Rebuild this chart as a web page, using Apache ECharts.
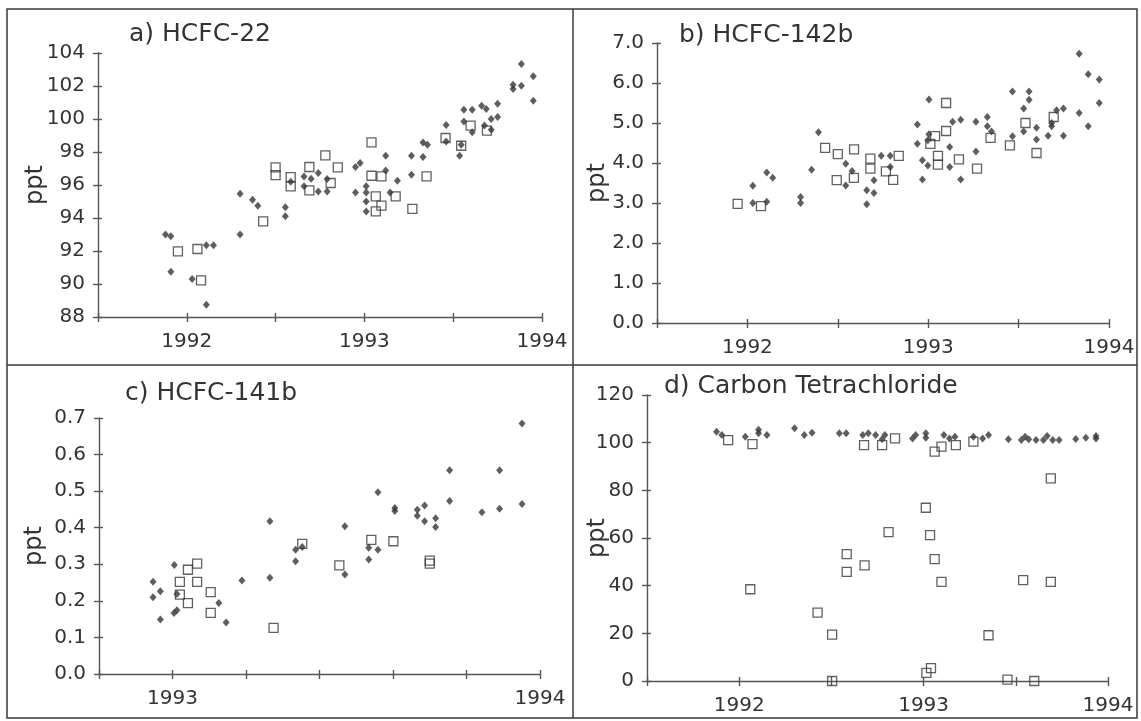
<!DOCTYPE html>
<html><head><meta charset="utf-8">
<script src="https://cdn.jsdelivr.net/npm/echarts@6/dist/echarts.min.js"></script>
<style>html,body{margin:0;padding:0;background:#fff}#c{width:1141px;height:721px}</style>
</head><body><div id="c"></div>
<script>
// ---------- DATA ----------
const panelTitles = ['a) HCFC-22', 'b) HCFC-142b', 'c) HCFC-141b', 'd) Carbon Tetrachloride'];
const yAxisName = 'ppt';
// [min, max, interval]
const xRangeA = [1991.5, 1994, 0.5];
const yRangeA = [88, 104, 2];
const xRangeB = [1991.5, 1994, 0.5];
const yRangeB = [0, 7, 1];
const xRangeC = [1992.8, 1994, 0.2];
const yRangeC = [0, 0.7, 0.1];
const xRangeD = [1991.5, 1994, 0.5];
const yRangeD = [0, 120, 20];
const yDecimals = [0, 1, 1, 0];

// a) HCFC-22  [decimal year, ppt]
const hcfc22Filled = [
  [1991.88,93.0],[1991.91,92.9],[1991.91,90.75],[1992.03,90.3],[1992.11,88.75],[1992.11,92.35],[1992.15,92.35],
  [1992.30,95.47],[1992.30,93.0],[1992.37,95.1],[1992.40,94.75],[1992.555,94.65],[1992.555,94.1],[1992.585,96.2],
  [1992.66,96.52],[1992.70,96.38],[1992.74,96.73],[1992.66,95.92],[1992.74,95.6],[1992.79,95.6],[1992.79,96.36],
  [1992.95,97.09],[1992.976,97.33],[1992.95,95.55],[1993.01,95.92],[1993.01,95.55],[1993.01,95.0],[1993.01,94.4],
  [1993.12,97.78],[1993.12,96.88],[1993.145,95.55],[1993.186,96.26],[1993.265,97.78],[1993.265,96.62],
  [1993.33,98.58],[1993.355,98.44],[1993.33,97.7],[1993.46,99.64],[1993.46,98.64],[1993.536,97.78],[1993.545,98.44],
  [1993.56,100.56],[1993.607,100.56],[1993.56,99.85],[1993.607,99.19],[1993.66,100.8],[1993.686,100.6],
  [1993.676,99.6],[1993.714,99.35],[1993.714,100.0],[1993.75,100.93],[1993.75,100.12],[1993.837,101.82],
  [1993.837,102.08],[1993.884,102.02],[1993.884,103.33],[1993.951,102.59],[1993.951,101.11]
];
const hcfc22Open = [
  [1991.95,91.98],[1992.06,92.12],[1992.08,90.22],[1992.43,93.8],[1992.50,97.07],[1992.50,96.6],[1992.585,96.48],
  [1992.585,95.92],[1992.69,97.09],[1992.69,95.67],[1992.78,97.8],[1992.81,96.12],[1992.85,97.07],[1993.04,98.58],
  [1993.04,96.56],[1993.096,96.52],[1993.064,95.31],[1993.096,94.75],[1993.064,94.4],[1993.176,95.31],[1993.27,94.55],
  [1993.35,96.52],[1993.457,98.85],[1993.545,98.38],[1993.598,99.6],[1993.69,99.29]
];

// b) HCFC-142b
const hcfc142bFilled = [
  [1992.03,3.43],[1992.03,3.0],[1992.107,3.03],[1992.107,3.76],[1992.14,3.63],[1992.294,3.15],[1992.294,3.0],
  [1992.355,3.83],[1992.393,4.77],[1992.544,3.98],[1992.544,3.44],[1992.579,3.8],[1992.66,3.32],[1992.66,2.97],
  [1992.70,3.57],[1992.70,3.25],[1992.74,4.18],[1992.79,4.18],[1992.79,3.9],[1992.94,4.96],[1992.94,4.48],
  [1992.968,4.07],[1992.968,3.59],[1993.004,5.59],[1993.004,4.72],[1992.998,4.57],[1992.998,3.94],[1993.119,4.4],
  [1993.119,3.9],[1993.135,5.03],[1993.18,5.08],[1993.18,3.59],[1993.264,5.03],[1993.264,4.29],[1993.327,5.15],
  [1993.327,4.92],[1993.35,4.79],[1993.466,5.79],[1993.466,4.67],[1993.528,5.36],[1993.528,4.79],[1993.558,5.79],
  [1993.558,5.58],[1993.599,4.88],[1993.599,4.59],[1993.663,4.68],[1993.683,4.92],[1993.683,5.0],[1993.71,5.32],
  [1993.748,5.36],[1993.748,4.68],[1993.835,6.73],[1993.835,5.25],[1993.885,6.22],[1993.885,4.92],
  [1993.946,6.09],[1993.946,5.5]
];
const hcfc142bOpen = [
  [1991.946,2.98],[1992.075,2.92],[1992.43,4.38],[1992.50,4.22],[1992.59,4.34],[1992.494,3.57],[1992.589,3.63],
  [1992.68,4.11],[1992.68,3.86],[1992.766,3.79],[1992.806,3.58],[1992.837,4.18],[1993.012,4.48],[1993.038,4.67],
  [1993.099,5.5],[1993.099,4.8],[1993.054,4.18],[1993.054,3.96],[1993.17,4.09],[1993.27,3.86],[1993.345,4.63],
  [1993.452,4.44],[1993.538,5.0],[1993.599,4.25],[1993.694,5.15]
];

// c) HCFC-141b
const hcfc141bFilled = [
  [1992.947,0.252],[1992.947,0.21],[1992.967,0.226],[1992.967,0.149],[1993.005,0.298],[1993.012,0.219],
  [1993.012,0.174],[1993.004,0.167],[1993.126,0.194],[1993.146,0.141],[1993.189,0.256],[1993.265,0.418],
  [1993.265,0.263],[1993.335,0.34],[1993.335,0.308],[1993.353,0.347],[1993.469,0.404],[1993.469,0.272],
  [1993.559,0.497],[1993.534,0.345],[1993.559,0.34],[1993.534,0.313],[1993.605,0.454],[1993.605,0.446],
  [1993.666,0.449],[1993.666,0.433],[1993.686,0.461],[1993.686,0.418],[1993.716,0.426],[1993.716,0.402],
  [1993.754,0.557],[1993.754,0.473],[1993.842,0.442],[1993.89,0.557],[1993.89,0.452],[1993.951,0.685],[1993.951,0.465]
];
const hcfc141bOpen = [
  [1993.02,0.252],[1993.042,0.285],[1993.067,0.302],[1993.067,0.252],[1993.02,0.217],[1993.042,0.194],
  [1993.104,0.224],[1993.104,0.167],[1993.275,0.126],[1993.353,0.356],[1993.454,0.297],[1993.541,0.367],
  [1993.601,0.363],[1993.70,0.31],[1993.70,0.302]
];

// d) Carbon Tetrachloride
const ccl4Filled = [
  [1991.877,104.6],[1991.906,103.2],[1992.033,102.5],[1992.105,103.9],[1992.105,105.4],[1992.15,103.2],
  [1992.30,106.0],[1992.353,103.2],[1992.395,104.2],[1992.543,103.9],[1992.58,103.9],[1992.67,103.2],
  [1992.70,103.9],[1992.74,103.2],[1992.775,101.4],[1992.79,103.2],[1992.94,101.8],[1992.957,103.2],
  [1993.012,103.9],[1993.012,102.1],[1993.11,103.2],[1993.14,101.8],[1993.17,102.5],[1993.27,102.5],
  [1993.32,101.8],[1993.352,103.2],[1993.46,101.4],[1993.53,101.1],[1993.55,102.5],[1993.57,101.4],
  [1993.61,101.1],[1993.65,101.1],[1993.67,102.8],[1993.70,101.1],[1993.735,101.1],[1993.825,101.5],
  [1993.88,102.1],[1993.935,101.8],[1993.935,102.8]
];
const ccl4Open = [
  [1991.94,101.1],[1992.072,99.4],[1992.06,38.5],[1992.425,28.7],[1992.504,19.5],[1992.504,0],[1992.583,53.2],
  [1992.583,45.8],[1992.68,48.5],[1992.677,99.0],[1992.775,99.0],[1992.81,62.5],[1992.845,101.8],[1993.012,72.7],
  [1993.015,3.4],[1993.04,5.4],[1993.035,61.2],[1993.06,51.1],[1993.06,96.2],[1993.097,98.3],[1993.097,41.6],
  [1993.175,99.0],[1993.27,100.4],[1993.352,19.2],[1993.455,0.6],[1993.54,42.3],[1993.60,0],[1993.69,85.0],[1993.69,41.6]
];

// ---------- CHART ----------
const FONT = 'DejaVu Sans';
const INK = '#333';
const panels = [
  {grid:{left:98, top:53, width:444, height:264}, x:xRangeA, y:yRangeA, filled:hcfc22Filled, open:hcfc22Open, title:[129,22], nameGap:50},
  {grid:{left:657, top:43, width:452, height:280}, x:xRangeB, y:yRangeB, filled:hcfc142bFilled, open:hcfc142bOpen, title:[679,23], nameGap:47},
  {grid:{left:99, top:418, width:441, height:256}, x:xRangeC, y:yRangeC, filled:hcfc141bFilled, open:hcfc141bOpen, title:[125,381], nameGap:52},
  {grid:{left:647, top:395, width:461, height:286}, x:xRangeD, y:yRangeD, filled:ccl4Filled, open:ccl4Open, title:[664,374], nameGap:37}
];

const grids = [], xAxes = [], yAxes = [], series = [], graphics = [];
function yearLabel(v){ const r = Math.round(v); return Math.abs(v - r) < 1e-6 ? String(r) : ''; }

panels.forEach((p, i) => {
  grids.push(Object.assign({containLabel:false}, p.grid));
  const dec = yDecimals[i];
  xAxes.push({type:'value', gridIndex:i, position:'bottom', min:p.x[0], max:p.x[1], interval:p.x[2],
    axisLine:{onZero:false, lineStyle:{color:'#555', width:1.4}},
    axisTick:{show:true, length:5, lineStyle:{color:'#555', width:1.4}},
    axisLabel:{formatter:yearLabel, color:INK, fontFamily:FONT, fontSize:20, margin:15, showMinLabel:true, showMaxLabel:true},
    splitLine:{show:false}});
  xAxes.push({type:'value', gridIndex:i, position:'bottom', min:p.x[0], max:p.x[1], interval:p.x[2],
    axisLine:{show:false, onZero:false}, axisTick:{show:true, inside:true, length:4, lineStyle:{color:'#555', width:1.4}},
    axisLabel:{show:false}, splitLine:{show:false}});
  yAxes.push({type:'value', gridIndex:i, position:'left', min:p.y[0], max:p.y[1], interval:p.y[2],
    name:yAxisName, nameLocation:'middle', nameGap:p.nameGap, nameMoveOverlap:false,
    nameTextStyle:{color:INK, fontFamily:FONT, fontSize:24},
    axisLine:{onZero:false, lineStyle:{color:'#555', width:1.4}},
    axisTick:{show:true, length:5, lineStyle:{color:'#555', width:1.4}},
    axisLabel:{formatter:(v)=> (dec===0 ? String(Math.round(v*10)/10) : v.toFixed(dec)), color:INK, fontFamily:FONT, fontSize:20, margin:13},
    splitLine:{show:false}});
  yAxes.push({type:'value', gridIndex:i, position:'left', min:p.y[0], max:p.y[1], interval:p.y[2],
    axisLine:{show:false, onZero:false}, axisTick:{show:true, inside:true, length:4, lineStyle:{color:'#555', width:1.4}},
    axisLabel:{show:false}, splitLine:{show:false}});
  series.push({type:'scatter', name:'filled', xAxisIndex:2*i, yAxisIndex:2*i, data:p.filled,
    symbol:'diamond', symbolSize:[7,8], itemStyle:{color:'#363636'}, silent:true, z:2});
  series.push({type:'scatter', name:'open', xAxisIndex:2*i, yAxisIndex:2*i, data:p.open,
    symbol:'rect', symbolSize:9, itemStyle:{color:'rgba(255,255,255,0)', borderColor:'#3a3a3a', borderWidth:1.3}, silent:true, z:3});
  graphics.push({type:'text', left:p.title[0], top:p.title[1], z:10,
    style:{text:panelTitles[i], fill:INK, font:'25px "DejaVu Sans"'}});
});

// panel frame
graphics.push({type:'rect', shape:{x:7, y:9, width:1130, height:709}, style:{fill:'none', stroke:'#3a3a3a', lineWidth:1.5}, z:0});
graphics.push({type:'line', shape:{x1:573, y1:9, x2:573, y2:718}, style:{stroke:'#3a3a3a', lineWidth:1.5}, z:0});
graphics.push({type:'line', shape:{x1:7, y1:365, x2:1137, y2:365}, style:{stroke:'#3a3a3a', lineWidth:1.5}, z:0});

const chart = echarts.init(document.getElementById('c'), null, {renderer:'canvas'});
chart.setOption({
  backgroundColor:'#fff', animation:false,
  grid:grids, xAxis:xAxes, yAxis:yAxes, series:series, graphic:graphics
});
</script></body></html>
